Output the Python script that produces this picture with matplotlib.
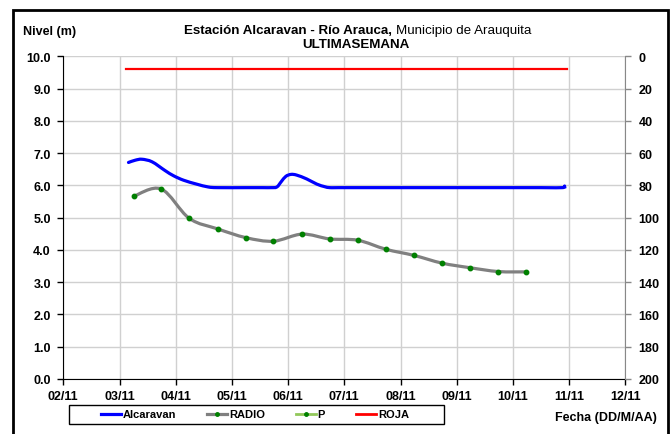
import matplotlib

matplotlib.use("Agg")
import matplotlib.pyplot as plt  # noqa: E402
from matplotlib.lines import Line2D  # noqa: E402
from matplotlib.patches import PathPatch, Rectangle  # noqa: E402
from matplotlib.path import Path  # noqa: E402
import numpy as np  # noqa: E402

plt.rcParams["font.family"] = ["Liberation Sans", "DejaVu Sans"]

# --- datos (dia de noviembre, nivel en m) ---
alcaravan_dia = [3.16, 3.28, 3.40, 3.58, 3.81, 3.96, 4.14, 4.37, 4.58, 4.75,
                 5.25, 5.55, 5.70, 5.80, 5.88, 5.96, 6.05, 6.15, 6.33, 6.51,
                 6.65, 6.74, 6.9, 7.5, 8.5, 9.5, 10.5, 10.88, 10.92]
alcaravan_nivel = [6.71, 6.78, 6.81, 6.73, 6.46, 6.30, 6.16, 6.04, 5.95, 5.93,
                   5.93, 5.93, 5.93, 5.95, 6.12, 6.28, 6.34, 6.32, 6.20, 6.04,
                   5.96, 5.93, 5.93, 5.93, 5.93, 5.93, 5.93, 5.93, 5.98]

radio_dia = [3.25, 3.74, 4.24, 4.75, 5.25, 5.74, 6.25, 6.74, 7.24, 7.74,
             8.24, 8.74, 9.23, 9.74, 10.24]
radio_nivel = [5.66, 5.89, 4.98, 4.65, 4.38, 4.27, 4.49, 4.34, 4.30, 4.02,
               3.83, 3.59, 3.45, 3.33, 3.32]

p_dia = []
p_nivel = []

roja_dia = [3.11, 10.96]
roja_nivel = [9.6, 9.6]

x_ticks = list(range(2, 13))
x_labels = [f"{d:02d}/11" for d in x_ticks]
y_ticks = [i * 1.0 for i in range(11)]
y2_ticks = list(range(0, 201, 20))

W, H = 671, 435


def fx(px):
    return px / W


def fy(py):
    return 1 - py / H


def smooth_path(xs, ys):
    """Curva suavizada tipo Excel (Catmull-Rom como Bezier cubica)."""
    pts = np.column_stack([xs, ys]).astype(float)
    verts = [pts[0]]
    codes = [Path.MOVETO]
    n = len(pts)
    for i in range(n - 1):
        p0 = pts[max(i - 1, 0)]
        p1 = pts[i]
        p2 = pts[i + 1]
        p3 = pts[min(i + 2, n - 1)]
        c1 = p1 + (p2 - p0) / 6.0
        c2 = p2 - (p3 - p1) / 6.0
        verts += [c1, c2, p2]
        codes += [Path.CURVE4] * 3
    return Path(verts, codes)


fig = plt.figure(figsize=(W / 100, H / 100), dpi=100)
ax = fig.add_axes([fx(63.3), fy(380), fx(625.3) - fx(63.3), fy(57.3) - fy(380)])

ax.set_xlim(2, 12)
ax.set_ylim(0, 10)
ax.grid(True, color="#d0d0d0", linewidth=1.0)
ax.set_axisbelow(True)

ax.add_patch(PathPatch(smooth_path(alcaravan_dia, alcaravan_nivel), facecolor="none",
                       edgecolor="#0000ff", linewidth=2.3, capstyle="round", zorder=3))
ax.add_patch(PathPatch(smooth_path(radio_dia, radio_nivel), facecolor="none",
                       edgecolor="#808080", linewidth=2.3, capstyle="round", zorder=3))
ax.plot(radio_dia, radio_nivel, linestyle="none", marker="o", markersize=3.2,
        color="#008000", zorder=4)
ax.plot(p_dia, p_nivel, color="#92c85a", linewidth=2, marker="o", markersize=2.5,
        markerfacecolor="#008000", markeredgecolor="#008000")
ax.plot(roja_dia, roja_nivel, color="#ff0000", linewidth=1.6, zorder=3)

ax.set_xticks(x_ticks)
ax.set_xticklabels(x_labels)
ax.set_yticks(y_ticks)
ax.set_yticklabels([f"{v:.1f}" for v in y_ticks])
ax.tick_params(axis="both", direction="out", length=4, width=1, labelsize=9, color="#000000")
ax.tick_params(axis="x", pad=4)
ax.tick_params(axis="y", pad=5)
for lab in ax.get_xticklabels() + ax.get_yticklabels():
    lab.set_fontweight("bold")

ax.spines["top"].set_visible(False)
ax.spines["right"].set_visible(False)
ax.spines["left"].set_color("#000000")
ax.spines["bottom"].set_color("#000000")

ax2 = ax.twinx()
ax2.set_ylim(200, 0)
ax2.set_yticks(y2_ticks)
ax2.set_yticklabels([str(v) for v in y2_ticks])
ax2.tick_params(axis="y", direction="out", length=4.5, width=1, labelsize=9,
                color="#888888", pad=5)
for lab in ax2.get_yticklabels():
    lab.set_fontweight("bold")
for s in ["top", "left", "bottom"]:
    ax2.spines[s].set_visible(False)
ax2.spines["right"].set_color("#888888")

# titulos
fig.text(fx(392), fy(31), "Estación Alcaravan - Río Arauca,", ha="right", va="center",
         fontsize=9.6, fontweight="bold")
fig.text(fx(396), fy(31), "Municipio de Arauquita", ha="left", va="center", fontsize=9.6)
fig.text(fx(356), fy(44.5), "ULTIMASEMANA", ha="center", va="center",
         fontsize=9.6, fontweight="bold")
fig.text(fx(23), fy(32.5), "Nivel (m)", ha="left", va="center", fontsize=9, fontweight="bold")
fig.text(fx(657), fy(418), "Fecha (DD/M/AA)", ha="right", va="center", fontsize=9,
         fontweight="bold")

# leyenda
handles = [
    Line2D([], [], color="#0000ff", linewidth=2.3),
    Line2D([], [], color="#808080", linewidth=2.3, marker="o", markersize=2.5,
           markerfacecolor="#008000", markeredgecolor="#008000"),
    Line2D([], [], color="#92c85a", linewidth=2, marker="o", markersize=2.5,
           markerfacecolor="#008000", markeredgecolor="#008000"),
    Line2D([], [], color="#ff0000", linewidth=2),
]
leg = fig.legend(handles, ["Alcaravan", "RADIO", "P", "ROJA"], ncol=4, loc="center left",
                 bbox_to_anchor=(fx(101), fy(415.5)), bbox_transform=fig.transFigure,
                 frameon=False, borderpad=0, borderaxespad=0, handlelength=1.8,
                 handletextpad=0.15, columnspacing=2.8, prop={"size": 8, "weight": "bold"})
fig.patches.append(Rectangle((fx(69), fy(425)), fx(444) - fx(69), fy(405.7) - fy(425),
                             transform=fig.transFigure, fill=False, edgecolor="#000000",
                             linewidth=1.0))

# marco exterior
fig.patches.append(Rectangle((fx(13), fy(440)), fx(667.5) - fx(13), fy(11) - fy(440),
                             transform=fig.transFigure, fill=False, edgecolor="#000000",
                             linewidth=2.0))

fig.savefig("out.png", dpi=100)
